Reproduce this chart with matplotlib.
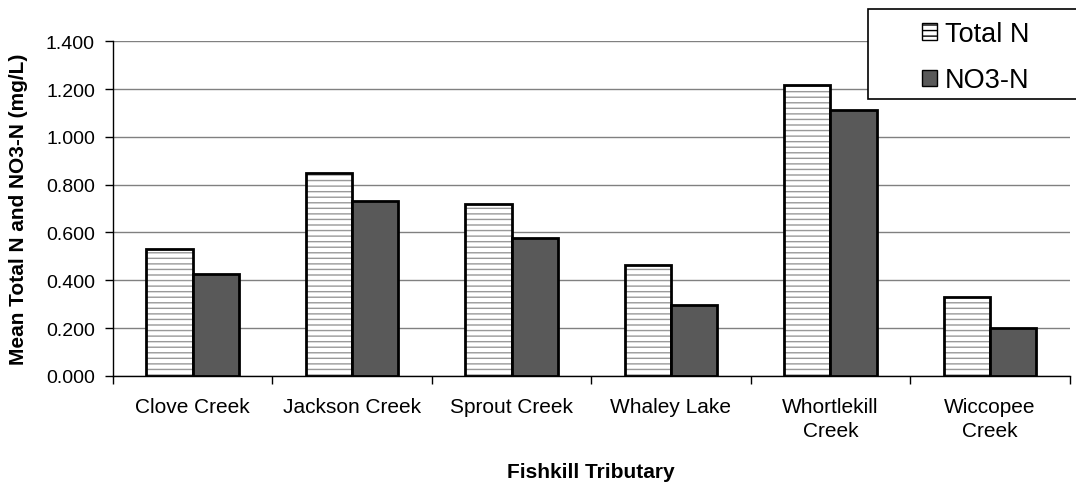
import matplotlib.pyplot as plt
import matplotlib.patches as mpatches
import numpy as np

plt.rcParams['font.family'] = ['Liberation Sans', 'DejaVu Sans']
plt.rcParams['hatch.linewidth'] = 1.0

categories = ['Clove Creek', 'Jackson Creek', 'Sprout Creek', 'Whaley Lake',
              'Whortlekill\nCreek', 'Wiccopee\nCreek']
total_n = [0.531, 0.848, 0.719, 0.464, 1.217, 0.330]
no3_n = [0.428, 0.731, 0.577, 0.295, 1.114, 0.200]

fig = plt.figure(figsize=(10.76, 4.85), dpi=100)
ax = fig.add_axes([0.105, 0.223, 0.889, 0.690])

x = np.arange(len(categories))
w = 0.29

# hatched fill first, then the black outline on top
ax.bar(x - w / 2, total_n, w, color='white', edgecolor='#999999',
       hatch='---', linewidth=0, zorder=2)
ax.bar(x - w / 2, total_n, w, fill=False, edgecolor='black',
       linewidth=2, zorder=3)
ax.bar(x + w / 2, no3_n, w, color='#595959', edgecolor='black',
       linewidth=2, zorder=3)

ax.set_xlim(-0.5, len(categories) - 0.5)
ax.set_ylim(0, 1.4)
ax.set_yticks(np.arange(0, 1.41, 0.2))
ax.set_yticklabels(['%.3f' % v for v in np.arange(0, 1.41, 0.2)])
ax.yaxis.grid(True, color='#808080', linewidth=1)
ax.set_axisbelow(True)

ax.set_xticks(x)
ax.set_xticklabels(categories, linespacing=1.35)
ax.tick_params(axis='x', length=0, pad=15, labelsize=15)
ax.set_xticks(np.arange(-0.5, len(categories)), minor=True)
ax.tick_params(axis='x', which='minor', length=6, width=1)
ax.tick_params(axis='y', length=6, width=1, labelsize=14, pad=7)

for s in ['top', 'right']:
    ax.spines[s].set_visible(False)
ax.spines['left'].set_linewidth(1)
ax.spines['bottom'].set_linewidth(1)

ax.set_xlabel('Fishkill Tributary', fontsize=15, fontweight='bold', va='center')
ax.xaxis.set_label_coords(0.5, -0.285)
ax.set_ylabel('Mean Total N and NO3-N (mg/L)', fontsize=15, fontweight='bold',
              va='center')
ax.yaxis.set_label_coords(-0.099, 0.5)

# legend box runs off the right edge, as in the original
fig.patches.append(mpatches.Rectangle((868 / 1076, 1 - 100 / 485),
                                      0.25, 90 / 485, transform=fig.transFigure,
                                      facecolor='white', edgecolor='black',
                                      linewidth=1.2, zorder=5))
h1 = mpatches.Patch(facecolor='white', edgecolor='black', hatch='---')
h2 = mpatches.Patch(facecolor='#595959', edgecolor='black')
leg = fig.legend([h1, h2], ['Total N', 'NO3-N'], loc='upper left',
                 bbox_to_anchor=(922 / 1076, 1 - 22 / 485), frameon=False,
                 fontsize=19.5, handlelength=0.55, handleheight=0.55,
                 handletextpad=0.3, labelspacing=0.75, borderpad=0,
                 borderaxespad=0)
leg.set_zorder(6)

fig.savefig('out.png', dpi=100)
